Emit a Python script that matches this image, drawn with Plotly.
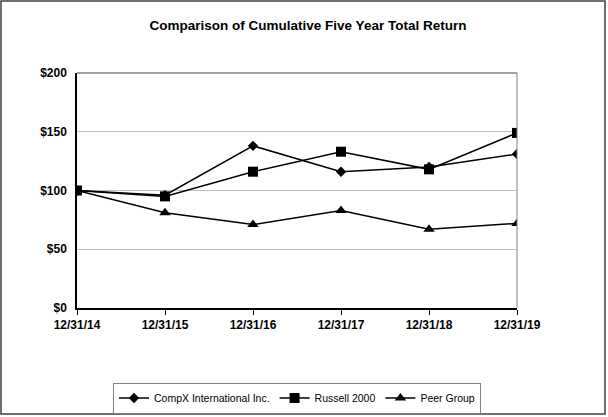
import plotly.graph_objects as go

# cumulative five year total return, $100 invested 12/31/14
dates = ['12/31/14', '12/31/15', '12/31/16', '12/31/17', '12/31/18', '12/31/19']
compx = [100, 96, 138, 116, 120, 131]
russell = [100, 95, 116, 133, 118, 149]
peer = [100, 81, 71, 83, 67, 72]
y_ticks = [0, 50, 100, 150, 200]
y_labels = ['$0', '$50', '$100', '$150', '$200']

W, H = 608, 417
L, R, T, B = 77, 91, 73, 109
pw, ph = W - L - R, H - T - B


def px(x):
    return (x - L) / pw


def py(y):
    return (H - B - y) / ph


xs = list(range(len(dates)))
line = dict(color='black', width=1.5)

fig = go.Figure()
fig.add_trace(go.Scatter(x=xs, y=compx, name='CompX International Inc.',
                         mode='lines+markers', line=line,
                         marker=dict(symbol='diamond', size=8, color='black')))
fig.add_trace(go.Scatter(x=xs, y=russell, name='Russell 2000',
                         mode='lines+markers', line=line,
                         marker=dict(symbol='square', size=10, color='black')))
fig.add_trace(go.Scatter(x=xs, y=peer, name='Peer Group',
                         mode='lines+markers', line=line,
                         marker=dict(symbol='triangle-up', size=10, color='black')))

fig.update_layout(
    width=W, height=H,
    margin=dict(l=L, r=R, t=T, b=B, autoexpand=False),
    paper_bgcolor='white', plot_bgcolor='white',
    font=dict(family='Liberation Sans, Arial, sans-serif', color='black'),
    title=dict(text='<b>Comparison of Cumulative Five Year Total Return</b>',
               x=308 / W, xref='container', xanchor='center', y=1 - 25 / H, yanchor='middle',
               font=dict(size=13.5)),
    showlegend=True,
    legend=dict(orientation='h', x=0.5, xanchor='center', y=py(398), yanchor='middle',
                bordercolor='#808080', borderwidth=1, font=dict(size=10.5),
                itemwidth=30, tracegroupgap=0),
    xaxis=dict(range=[0, 5], tickvals=xs, ticktext=dates, showgrid=False,
               showline=True, linecolor='black', linewidth=1.5,
               ticks='outside', ticklen=5, tickcolor='black',
               tickfont=dict(size=12, weight='bold'), zeroline=False, fixedrange=True),
    yaxis=dict(range=[0, 200], tickvals=y_ticks, ticktext=y_labels,
               showgrid=True, gridcolor='#c0c0c0', gridwidth=1,
               showline=True, linecolor='black', linewidth=1.5,
               ticks='', tickfont=dict(size=12, weight='bold'), ticklabelstandoff=6,
               zeroline=False, fixedrange=True),
    shapes=[
        # top and right border of the plot area
        dict(type='line', xref='paper', yref='paper', x0=0, x1=1, y0=1, y1=1,
             line=dict(color='#808080', width=1.5)),
        dict(type='line', xref='paper', yref='paper', x0=1, x1=1, y0=0, y1=1,
             line=dict(color='#808080', width=1)),
        # outer frame
        dict(type='rect', xref='paper', yref='paper',
             x0=px(1), x1=px(605), y0=py(1), y1=py(414),
             line=dict(color='#404040', width=1.5)),
    ],
)

fig.write_html('out.html', config={'displayModeBar': False},
               post_script="document.body.style.margin='0';")
